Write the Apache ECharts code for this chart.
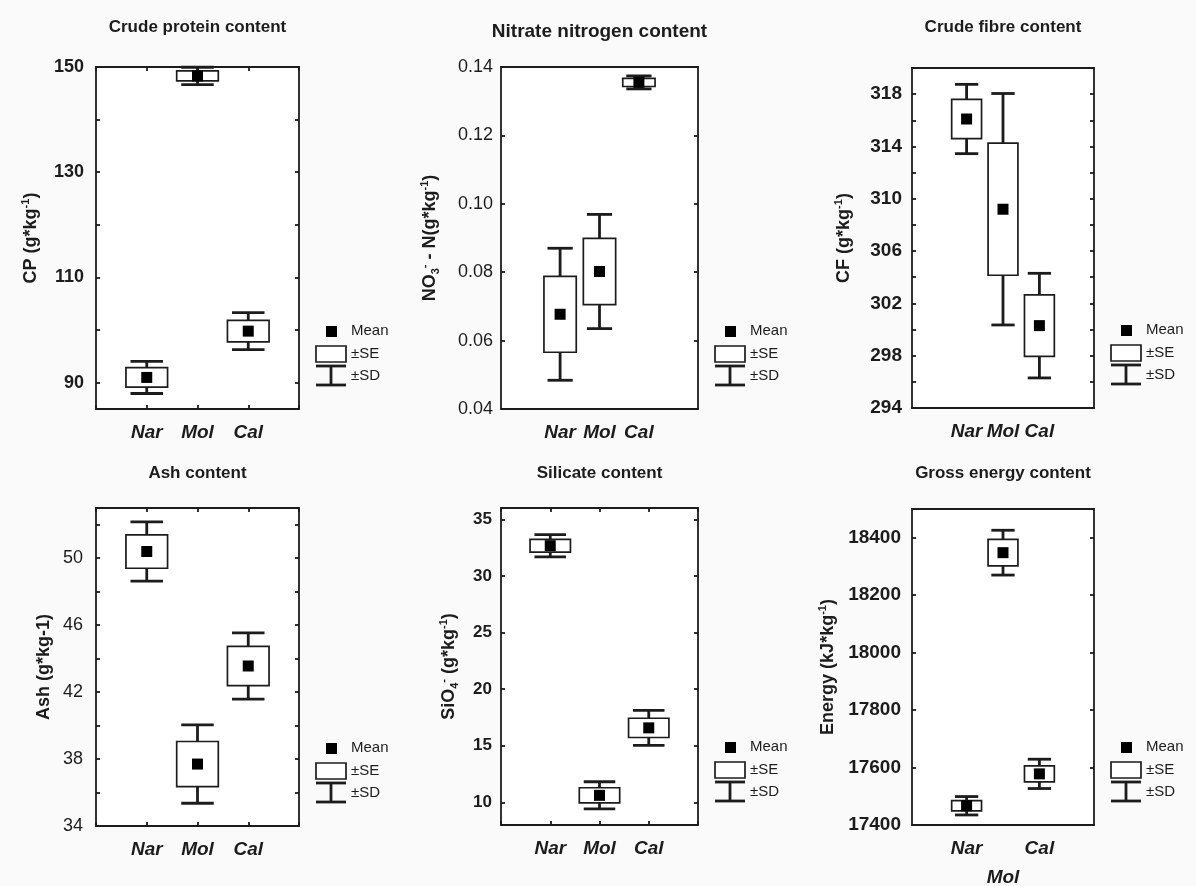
<!DOCTYPE html>
<html>
<head>
<meta charset="utf-8" />
<script src="https://cdn.jsdelivr.net/npm/echarts@6/dist/echarts.min.js"></script>
<style>
html, body, #main { width: 100%; height: 100%; margin: 0; padding: 0; background: #fafafa; }
</style>
</head>
<body>
<div id="main"></div>
<script>
// sites, padded with empty slots so the three groups sit inside the frame
var groups = ['', 'Nar', 'Mol', 'Cal', ''];

// crude protein (g/kg)
var cpMean = [91.0, 148.3, 99.8];
var cpSE = [1.85, 0.95, 2.05];
var cpSD = [3.05, 1.65, 3.5];
var cpLabels = [90, 110, 130, 150];
var cpTicks = [90, 100, 110, 120, 130, 140, 150];

// nitrate nitrogen (g/kg)
var no3Mean = [0.0677, 0.0802, 0.1355];
var no3SE = [0.0111, 0.0097, 0.0012];
var no3SD = [0.0193, 0.0167, 0.0019];
var no3Labels = [0.04, 0.06, 0.08, 0.10, 0.12, 0.14];

// crude fibre (g/kg)
var cfMean = [316.1, 309.2, 300.3];
var cfSE = [1.5, 5.05, 2.35];
var cfSD = [2.65, 8.85, 4.0];
var cfLabels = [294, 298, 302, 306, 310, 314, 318];
var cfTicks = [296, 298, 300, 302, 304, 306, 308, 310, 312, 314, 316, 318, 320];

// ash (g/kg)
var ashMean = [50.4, 37.7, 43.56];
var ashSE = [1.0, 1.35, 1.17];
var ashSD = [1.77, 2.34, 1.98];
var ashLabels = [34, 38, 42, 46, 50];
var ashTicks = [36, 38, 40, 42, 44, 46, 48, 50, 52];

// silicate (g/kg)
var sioMean = [32.67, 10.62, 16.58];
var sioSE = [0.56, 0.67, 0.85];
var sioSD = [0.98, 1.2, 1.55];
var sioLabels = [10, 15, 20, 25, 30, 35];

// gross energy (kJ/kg)
var geMean = [17467, 18348, 17578];
var geSE = [18, 46, 28];
var geSD = [32, 78, 51];
var geLabels = [17400, 17600, 17800, 18000, 18200, 18400];

var font = '"Liberation Sans", Arial, sans-serif';
var ink = '#1c1c1c';

var panels = [
    {title: 'Crude protein content', titleSize: 17, titleY: 27,
     name: 'CP (g*kg{sup|-1})', nameGap: 53,
     mean: cpMean, se: cpSE, sd: cpSD, min: 85, max: 150,
     labels: cpLabels, ticks: cpTicks, rect: [96, 67, 203, 342], onBand: false,
     tickSize: 18, tickWeight: 'bold', margin: 12},
    {title: 'Nitrate nitrogen content', titleSize: 19, titleY: 32,
     name: 'NO{sub|3}{sup|-} - N(g*kg{sup|-1})', nameGap: 59,
     mean: no3Mean, se: no3SE, sd: no3SD, min: 0.04, max: 0.14,
     labels: no3Labels, ticks: no3Labels, rect: [501, 67, 197, 342], onBand: true,
     tickSize: 18, tickWeight: 'normal', margin: 8, digits: 2},
    {title: 'Crude fibre content', titleSize: 17, titleY: 27,
     name: 'CF (g*kg{sup|-1})', nameGap: 56,
     mean: cfMean, se: cfSE, sd: cfSD, min: 294, max: 320,
     labels: cfLabels, ticks: cfTicks, rect: [912, 68, 182, 340], onBand: true,
     tickSize: 19, tickWeight: 'bold', margin: 10},
    {title: 'Ash content', titleSize: 17, titleY: 473,
     name: 'Ash (g*kg-1)', nameGap: 43,
     mean: ashMean, se: ashSE, sd: ashSD, min: 34, max: 53,
     labels: ashLabels, ticks: ashTicks, rect: [96, 508, 203, 318], onBand: false,
     tickSize: 18, tickWeight: 'normal', margin: 13},
    {title: 'Silicate content', titleSize: 17, titleY: 473,
     name: 'SiO{sub|4}{sup|-} (g*kg{sup|-1})', nameGap: 40,
     mean: sioMean, se: sioSE, sd: sioSD, min: 8, max: 36,
     labels: sioLabels, ticks: sioLabels, rect: [501, 508, 197, 317], onBand: false,
     tickSize: 17, tickWeight: 'bold', margin: 9},
    {title: 'Gross energy content', titleSize: 17, titleY: 473,
     name: 'Energy (kJ*kg{sup|-1})', nameGap: 72,
     mean: geMean, se: geSE, sd: geSD, min: 17400, max: 18500,
     labels: geLabels, ticks: geLabels, rect: [912, 509, 182, 316], onBand: true,
     tickSize: 19, tickWeight: 'bold', margin: 11, dropMol: true}
];

function renderBox(params, api) {
    var x = api.value(0), m = api.value(1), se = api.value(2), sd = api.value(3);
    var band = api.size([1, 0])[0];
    var c = api.coord([x, m]);
    var seTop = api.coord([x, m + se])[1], seBot = api.coord([x, m - se])[1];
    var sdTop = api.coord([x, m + sd])[1], sdBot = api.coord([x, m - sd])[1];
    var bw = band * 0.82, cw = band * 0.64, sq = 11;
    var thick = {stroke: ink, lineWidth: 2.8};
    return {
        type: 'group',
        children: [
            {type: 'line', shape: {x1: c[0], y1: sdTop, x2: c[0], y2: sdBot}, style: thick},
            {type: 'line', shape: {x1: c[0] - cw / 2, y1: sdTop, x2: c[0] + cw / 2, y2: sdTop}, style: thick},
            {type: 'line', shape: {x1: c[0] - cw / 2, y1: sdBot, x2: c[0] + cw / 2, y2: sdBot}, style: thick},
            {type: 'rect', shape: {x: c[0] - bw / 2, y: seTop, width: bw, height: seBot - seTop},
             style: {fill: '#fff', stroke: ink, lineWidth: 1.7}},
            {type: 'rect', shape: {x: c[0] - sq / 2, y: c[1] - sq / 2, width: sq, height: sq},
             style: {fill: '#000'}}
        ]
    };
}

function legendGroup(x, y) {
    var txt = function (t, ty) {
        return {type: 'text', x: 35, y: ty,
                style: {text: t, fill: ink, font: '15px ' + font,
                        align: 'left', verticalAlign: 'middle',
                        textAlign: 'left', textVerticalAlign: 'middle'}};
    };
    var thick = {stroke: ink, lineWidth: 2.8};
    return {
        type: 'group', x: x, y: y,
        children: [
            {type: 'rect', shape: {x: 10, y: -5, width: 11, height: 11}, style: {fill: '#000'}},
            txt('Mean', 0),
            {type: 'rect', shape: {x: 0, y: 15, width: 30, height: 16},
             style: {fill: '#fff', stroke: ink, lineWidth: 1.7}},
            txt('\u00b1SE', 23),
            {type: 'line', shape: {x1: 0, y1: 35, x2: 30, y2: 35}, style: thick},
            {type: 'line', shape: {x1: 15, y1: 35, x2: 15, y2: 54}, style: thick},
            {type: 'line', shape: {x1: 0, y1: 54, x2: 30, y2: 54}, style: thick},
            txt('\u00b1SD', 45)
        ]
    };
}

var option = {
    backgroundColor: '#fafafa',
    animation: false,
    title: [], grid: [], xAxis: [], yAxis: [], series: [], graphic: []
};

var lineStyle = {color: ink, width: 1.8};

panels.forEach(function (p, i) {
    var r = p.rect;
    option.title.push({
        text: p.title, left: r[0] + r[2] / 2, top: p.titleY, padding: 0,
        textAlign: 'center', textVerticalAlign: 'middle',
        textStyle: {fontFamily: font, fontSize: p.titleSize, fontWeight: 'bold', color: ink}
    });
    option.grid.push({
        left: r[0], top: r[1], width: r[2], height: r[3],
        show: true, backgroundColor: '#fff', borderWidth: 0,
        containLabel: false, outerBoundsMode: 'none'
    });
    var xBase = {
        type: 'category', gridIndex: i, data: groups, boundaryGap: p.onBand,
        axisLine: {onZero: false, lineStyle: lineStyle},
        axisTick: {inside: true, length: 4, alignWithLabel: true, lineStyle: lineStyle},
        splitLine: {show: false}
    };
    var xRich = {low: {padding: [29, 0, 0, 0], fontFamily: font, fontSize: 19,
                       fontWeight: 'bold', fontStyle: 'italic', color: ink}};
    option.xAxis.push(Object.assign({}, xBase, {
        position: 'bottom',
        axisLabel: {interval: 0, margin: 14, fontFamily: font, fontSize: 19,
                    fontWeight: 'bold', fontStyle: 'italic', color: ink, rich: xRich,
                    formatter: function (v) {
                        return (p.dropMol && v === 'Mol') ? '{low|' + v + '}' : v;
                    }}
    }));
    option.xAxis.push(Object.assign({}, xBase, {position: 'top', axisLabel: {show: false}}));

    var yBase = {
        type: 'value', gridIndex: i, min: p.min, max: p.max,
        axisLine: {show: true, onZero: false, lineStyle: lineStyle},
        axisTick: {show: true, inside: true, length: 4, customValues: p.ticks, lineStyle: lineStyle},
        splitLine: {show: false}
    };
    var nameRich = {
        sup: {fontFamily: font, fontSize: 11, fontWeight: 'bold', color: ink, padding: [0, 0, 12, 0]},
        sub: {fontFamily: font, fontSize: 11, fontWeight: 'bold', color: ink, padding: [10, 0, 0, 0]}
    };
    option.yAxis.push(Object.assign({}, yBase, {
        position: 'left',
        name: p.name, nameLocation: 'middle', nameGap: p.nameGap,
        nameTextStyle: {fontFamily: font, fontSize: 18, fontWeight: 'bold', color: ink, rich: nameRich},
        axisLabel: {customValues: p.labels, margin: p.margin, fontFamily: font,
                    fontSize: p.tickSize, fontWeight: p.tickWeight, color: ink,
                    formatter: function (v) { return p.digits ? v.toFixed(p.digits) : String(v); }}
    }));
    option.yAxis.push(Object.assign({}, yBase, {position: 'right', axisLabel: {show: false}}));

    var data = p.mean.map(function (m, k) {
        return [k + 1, m, p.se[k], p.sd[k]];
    });
    option.series.push({
        type: 'custom', xAxisIndex: 2 * i, yAxisIndex: 2 * i,
        renderItem: renderBox, data: data, clip: false
    });
    option.graphic.push(legendGroup(r[0] + r[2] + 17, r[1] + r[3] - 78));
});

var chart = echarts.init(document.getElementById('main'));
chart.setOption(option);
</script>
</body>
</html>
